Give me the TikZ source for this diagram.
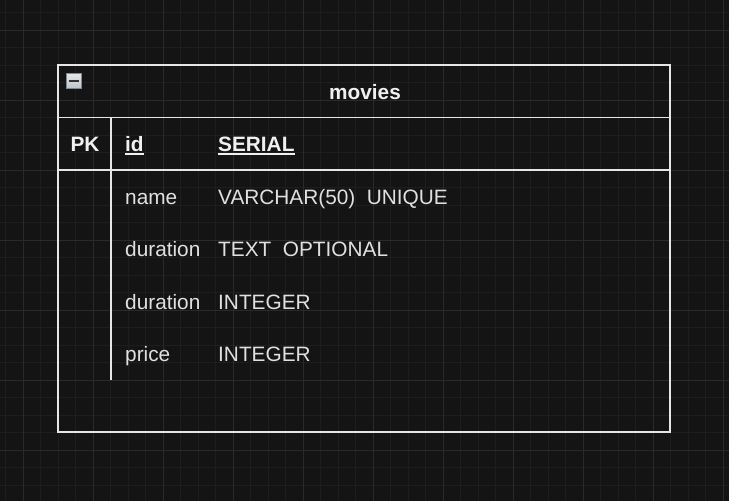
\documentclass[tikz,border=0pt]{standalone}
\usepackage{fontspec}
\setmainfont{Liberation Sans}
\usepackage{xcolor}
\definecolor{canvas}{HTML}{141414}
\definecolor{gridminor}{HTML}{1E1E1E}
\definecolor{gridmajor}{HTML}{2A2A2A}
\definecolor{rule}{HTML}{E6E6E6}
\definecolor{txt}{HTML}{E0E0E0}
\definecolor{btnfill}{HTML}{C0C4C8}
\definecolor{btnedge}{HTML}{7A8A9A}

\begin{document}
\begin{tikzpicture}[x=1pt, y=-1pt,
  font=\fontsize{20.8}{25}\selectfont,
  tbl/.style={draw=rule, line width=1.5pt, minimum width=612pt, minimum height=367pt, inner sep=0pt},
  sep/.style={draw=rule, line width=1.5pt},
  fld/.style={anchor=base west, text=txt, inner sep=0pt},
  keyfld/.style={fld, text=white!94!black, font=\fontsize{20.8}{25}\selectfont\bfseries},
  uline/.style={draw=white!94!black, line width=1.6pt}]
  \useasboundingbox (0,0) rectangle (729,501);
  \fill[canvas] (0,0) rectangle (729,501);
  % background grid
  \foreach \gx in {-1,...,41} {
    \draw[gridminor, line width=0.8pt] (23.3+17.5*\gx,0) -- (23.3+17.5*\gx,501);
  }
  \foreach \gy in {-1,...,28} {
    \draw[gridminor, line width=0.8pt] (0,30+17.5*\gy) -- (729,30+17.5*\gy);
  }
  \foreach \gx in {0,...,10} {
    \draw[gridmajor, line width=0.9pt] (23.3+70*\gx,0) -- (23.3+70*\gx,501);
  }
  \foreach \gy in {0,...,6} {
    \draw[gridmajor, line width=0.9pt] (0,30+70*\gy) -- (729,30+70*\gy);
  }

  % table frame
  \node[tbl] (movies) at (364,248.5) {};
  \coordinate (hdr) at (0,117.5);
  \coordinate (pkrow) at (0,170);
  \coordinate (colx) at (111,0);
  \draw[sep] (movies.west |- hdr) -- (movies.east |- hdr);
  \draw[sep] (movies.west |- pkrow) -- (movies.east |- pkrow);
  \draw[sep] (colx |- hdr) -- (colx |- 0,380);

  % collapse button
  \node[draw=btnedge, line width=1.2pt, top color=white!90!black, bottom color=btnfill,
        minimum size=15.5pt, inner sep=0pt] (btn) at (74,81) {};
  \draw[black!80, line width=2pt] ([xshift=3.5pt]btn.west) -- ([xshift=-3.5pt]btn.east);

  % title
  \node[keyfld, anchor=base] (title) at (365,99) {movies};

  % primary key row
  \node[keyfld, anchor=base] (pk) at (85,151.5) {PK};
  \node[keyfld] (id) at (125,151.5) {id};
  \node[keyfld] (idtype) at (218,151.5) {SERIAL};
  \draw[uline] ([yshift=-2.5pt]id.base west) -- ([yshift=-2.5pt]id.base east);
  \draw[uline] ([yshift=-2.5pt]idtype.base west) -- ([yshift=-2.5pt]idtype.base east);

  % fields
  \node[fld] (name) at (125,204) {name};
  \node[fld] (nametype) at (218,204) {VARCHAR(50)\ \ UNIQUE};
  \node[fld] (dur) at (125,256.5) {duration};
  \node[fld] (durtype) at (218,256.5) {TEXT\ \ OPTIONAL};
  \node[fld] (durb) at (125,309) {duration};
  \node[fld] (durbtype) at (218,309) {INTEGER};
  \node[fld] (price) at (125,361.5) {price};
  \node[fld] (pricetype) at (218,361.5) {INTEGER};
\end{tikzpicture}
\end{document}
